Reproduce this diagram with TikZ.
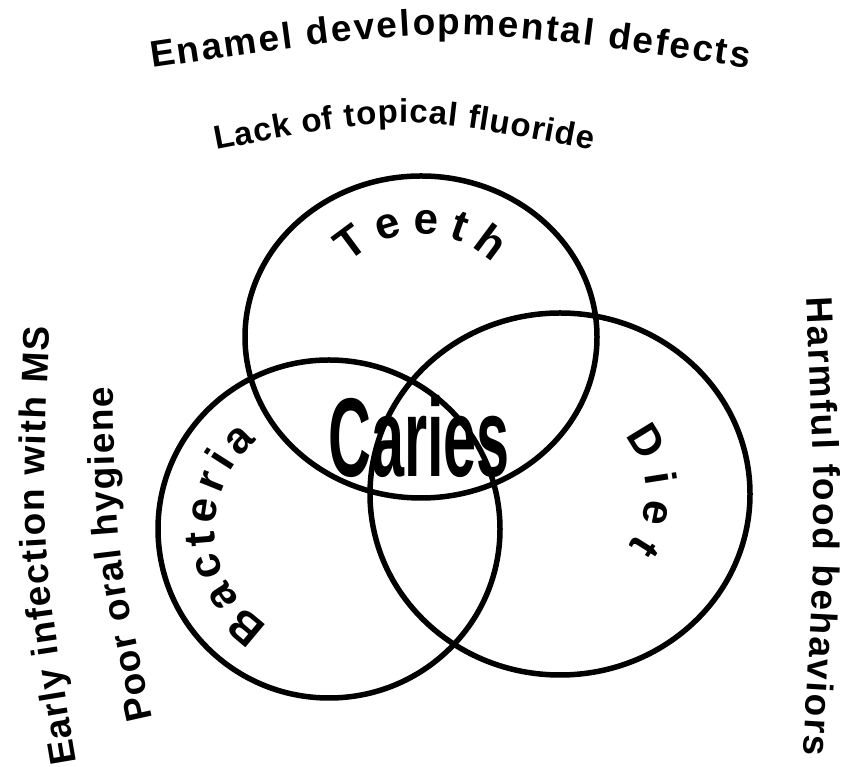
\documentclass[tikz,border=0pt]{standalone}
\usepackage{fontspec}
\setmainfont{Liberation Sans}
\usetikzlibrary{decorations.text}

\newcommand{\topfont}{\bfseries\fontsize{37}{40}\selectfont}
\newcommand{\lackfont}{\bfseries\fontsize{33}{36}\selectfont}
\newcommand{\sidefont}{\bfseries\fontsize{37}{40}\selectfont}
\newcommand{\ringfont}{\bfseries\fontsize{44}{48}\selectfont}

\begin{document}
\begin{tikzpicture}[x=1pt,y=1pt,
    ring/.style={line width=5.5pt},
    bend text/.style={decorate,
      decoration={text along path, text align=fit to path, text={#1}}}]
  \useasboundingbox (0,0) rectangle (864,767);

  % Circle centres
  \coordinate (teeth) at (421,430);
  \coordinate (bact) at (329,238);
  \coordinate (diet) at (560,273);

  % The three circles
  \draw[ring] (teeth) ellipse [x radius=176pt, y radius=161pt];
  \draw[ring] (bact) ellipse [x radius=171pt, y radius=169pt];
  \draw[ring] (diet) ellipse [x radius=190pt, y radius=181pt];

  % Words inside the circles
  \path[bend text={|\ringfont|Teeth}]
    ([shift={(134:103pt)}]teeth) arc [start angle=134, end angle=46, radius=103pt];
  \path[bend text={|\ringfont|Bacteria}]
    ([shift={(238:114pt)}]bact) arc [start angle=238, end angle=129, radius=114pt];
  \path[bend text={|\ringfont|Diet}]
    ([shift={(42:86pt)}]diet) arc [start angle=42, end angle=-37, radius=86pt];

  % Centre
  \node (caries) at (419,290) [anchor=base, inner sep=0pt,
    font=\bfseries\fontsize{112}{112}\selectfont] {\scalebox{0.53}[1]{Caries}};

  % Risk factors round the outside
  \path[bend text={|\topfont|Enamel developmental defects}]
    (152,699) .. controls (450,743) .. (748,699);
  \path[bend text={|\lackfont|Lack of topical fluoride}]
    (216,617) .. controls (404,653) .. (592,617);
  \path[bend text={|\sidefont|Early infection with MS}]
    (77,4) .. controls (40,222) .. (50,440);
  \path[bend text={|\sidefont|Poor oral hygiene}]
    (153,48) .. controls (116,215) .. (113,380);
  \path[bend text={|\sidefont|Harmful food behaviors}]
    (806,469) .. controls (817,240) .. (803,12);
\end{tikzpicture}
\end{document}
